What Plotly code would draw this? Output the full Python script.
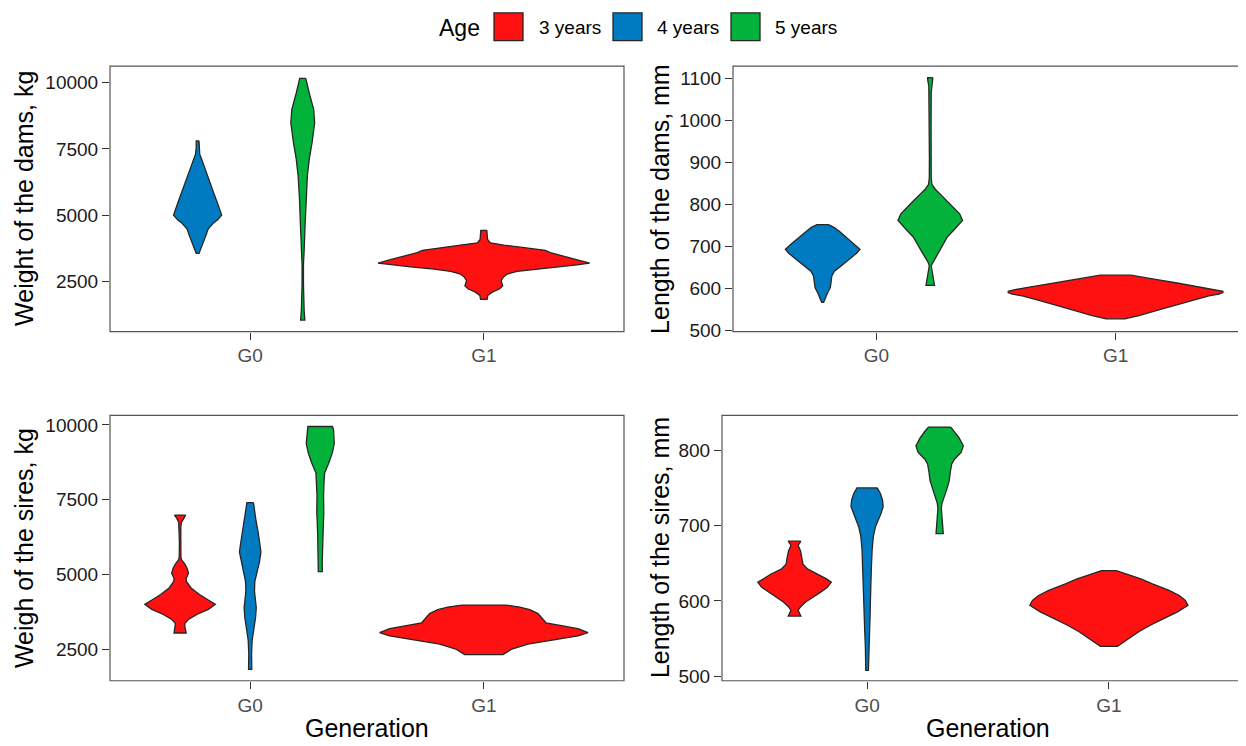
import plotly.graph_objects as go

W, H = 1246, 746
OFF = 8  # browser default body margin; the figure is shifted by this much
FONT = "Liberation Sans, Arial, Helvetica, sans-serif"

GENERATIONS = ["G0", "G1"]
AGES = ["3 years", "4 years", "5 years"]
AGE_COLORS = ["#FF1111", "#007BC2", "#03B23B"]

# Violin outlines: y = value, w = half width of the violin (x-axis units)
# ---- Weight of the dams, kg ----
dams_wt_G0_4y_y = [7800, 7550, 7300, 7120, 6500, 5880, 5380, 5000, 4820, 4700, 4570, 4450, 4260, 4010, 3770, 3550]
dams_wt_G0_4y_w = [0.006, 0.006, 0.009, 0.017, 0.041, 0.067, 0.088, 0.103, 0.086, 0.068, 0.054, 0.044, 0.037, 0.026, 0.014, 0.006]
dams_wt_G0_5y_y = [10160, 9975, 9600, 8980, 8485, 7740, 7120, 6500, 5630, 4635, 3640, 3145, 2400, 1900, 1405, 1035]
dams_wt_G0_5y_w = [0.013, 0.017, 0.028, 0.047, 0.051, 0.040, 0.028, 0.020, 0.014, 0.010, 0.006, 0.003, 0.003, 0.004, 0.006, 0.009]
dams_wt_G1_3y_y = [4424, 4263, 4077, 3952, 3866, 3766, 3667, 3580, 3456, 3332, 3182, 3120, 3046, 2959, 2872,
                   2773, 2648, 2524, 2425, 2325, 2214, 2090, 1965, 1816]
dams_wt_G1_3y_w = [0.013, 0.013, 0.016, 0.028, 0.085, 0.174, 0.263, 0.285, 0.335, 0.392, 0.453, 0.399, 0.313, 0.214, 0.142,
                   0.100, 0.083, 0.074, 0.078, 0.081, 0.068, 0.036, 0.017, 0.014]

# ---- Length of the dams, mm ----
dams_len_G0_4y_y = [751.7, 744.6, 734.5, 722.8, 707.2, 693.1, 683.7, 672.0, 660.3, 650.9, 640.7, 629.0, 613.4, 601.7, 588.4, 576.7, 566.6]
dams_len_G0_4y_w = [0.024, 0.049, 0.072, 0.095, 0.128, 0.156, 0.142, 0.118, 0.095, 0.072, 0.049, 0.038, 0.035, 0.032, 0.020, 0.010, 0.004]
dams_len_G0_5y_y = [1101.6, 1093.8, 1082.0, 1066.4, 988.3, 910.2, 863.4, 847.7, 836.0, 824.3, 808.7, 793.1, 777.4, 761.8, 750.1,
                    738.4, 722.8, 707.2, 691.5, 675.9, 664.2, 654.1, 640.7, 625.1, 607.2]
dams_len_G0_5y_w = [0.011, 0.010, 0.006, 0.004, 0.0035, 0.0035, 0.004, 0.007, 0.021, 0.042, 0.070, 0.098, 0.123, 0.135, 0.118,
                    0.098, 0.072, 0.056, 0.039, 0.024, 0.011, 0.004, 0.008, 0.014, 0.018]
dams_len_G1_3y_y = [631.3, 628.9, 621.1, 613.3, 605.5, 597.7, 593.0, 589.9, 586.0, 582.1, 570.4, 558.7, 546.9, 535.2, 530.5, 527.4]
dams_len_G1_3y_w = [0.064, 0.086, 0.167, 0.251, 0.334, 0.415, 0.449, 0.449, 0.432, 0.390, 0.313, 0.237, 0.170, 0.098, 0.063, 0.039]

# ---- Weigh of the sires, kg ----
sires_wt_G0_3y_y = [6986, 6876, 6745, 6580, 6087, 5594, 5484, 5375, 5210, 5046, 4882, 4772, 4553, 4334, 4169, 4005,
                    3840, 3676, 3512, 3369, 3237, 3051]
sires_wt_G0_3y_w = [0.024, 0.014, 0.006, 0.003, 0.003, 0.0036, 0.007, 0.0185, 0.030, 0.036, 0.026, 0.027, 0.047, 0.083, 0.117, 0.151,
                    0.121, 0.074, 0.037, 0.020, 0.021, 0.026]
sires_wt_G0_4y_y = [7402, 7183, 6855, 6416, 6087, 5758, 5430, 5101, 4772, 4443, 4114, 3895, 3567, 3238, 2799, 2361, 1835]
sires_wt_G0_4y_w = [0.014, 0.017, 0.024, 0.034, 0.040, 0.046, 0.040, 0.0285, 0.020, 0.0185, 0.024, 0.026, 0.023, 0.017, 0.0085, 0.006, 0.007]
sires_wt_G0_5y_y = [9945, 9814, 9375, 9046, 8718, 8389, 8060, 7622, 7074, 6745, 6306, 5868, 5430, 5101]
sires_wt_G0_5y_w = [0.053, 0.057, 0.060, 0.051, 0.036, 0.0185, 0.016, 0.014, 0.015, 0.013, 0.011, 0.010, 0.0085, 0.0085]
sires_wt_G1_3y_y = [3983, 3917, 3830, 3698, 3501, 3391, 3303, 3194, 3062, 2953, 2821, 2679, 2514, 2328]
sires_wt_G1_3y_w = [0.094, 0.154, 0.197, 0.232, 0.254, 0.266, 0.326, 0.403, 0.446, 0.403, 0.300, 0.189, 0.120, 0.082]

# ---- Length of the sires, mm ----
sires_len_G0_3y_y = [679.2, 673.5, 666.1, 657.4, 648.7, 642.1, 635.6, 629.1, 624.7, 618.1, 611.6, 605.1, 598.5, 592.0, 587.6, 579.8]
sires_len_G0_3y_w = [0.026, 0.015, 0.025, 0.0305, 0.035, 0.055, 0.097, 0.132, 0.152, 0.136, 0.108, 0.076, 0.046, 0.025, 0.015, 0.026]
sires_len_G0_4y_y = [749.8, 742.4, 733.7, 725.0, 716.3, 707.5, 698.8, 685.7, 668.3, 646.5, 624.7, 602.9, 581.1, 559.3, 537.5, 520.0, 507.8]
sires_len_G0_4y_w = [0.042, 0.055, 0.064, 0.0665, 0.058, 0.046, 0.035, 0.026, 0.021, 0.018, 0.015, 0.014, 0.0125, 0.0097, 0.007, 0.0055, 0.0055]
sires_len_G0_5y_y = [830.5, 825.3, 816.6, 805.7, 796.9, 788.2, 781.7, 770.8, 759.9, 748.9, 738.1, 729.4, 722.8, 711.9, 701.0, 689.2]
sires_len_G0_5y_w = [0.046, 0.060, 0.080, 0.098, 0.089, 0.062, 0.050, 0.044, 0.040, 0.0305, 0.019, 0.0097, 0.007, 0.0097, 0.0125, 0.015]
sires_len_G1_3y_y = [640.0, 634.7, 629.1, 622.5, 613.8, 607.2, 600.7, 594.2, 585.4, 576.7, 568.0, 559.3, 548.4, 539.6]
sires_len_G1_3y_w = [0.0305, 0.079, 0.132, 0.180, 0.249, 0.291, 0.316, 0.327, 0.284, 0.2285, 0.173, 0.125, 0.076, 0.035]

# tick values per panel
dams_wt_ticks = [2500, 5000, 7500, 10000]
dams_len_ticks = [500, 600, 700, 800, 900, 1000, 1100]
sires_wt_ticks = [2500, 5000, 7500, 10000]
sires_len_ticks = [500, 600, 700, 800]

FW, FH = W - OFF, H - OFF  # figure size so that it fills the window after the body margin


def px_x(v):
    return (v - OFF) / FW


def px_y(v):
    return 1 - (v - OFF) / FH


panels = [
    dict(title="Weight of the dams, kg", xtitle=None,
         box=(110, 624, 66, 335), yrange=[600, 10620], ticks=dams_wt_ticks, title_x=24,
         violins=[("G0", "4 years", dams_wt_G0_4y_y, dams_wt_G0_4y_w),
                  ("G0", "5 years", dams_wt_G0_5y_y, dams_wt_G0_5y_w),
                  ("G1", "3 years", dams_wt_G1_3y_y, dams_wt_G1_3y_w)]),
    dict(title="Length of the dams, mm", xtitle=None,
         box=(733, 1259, 66, 335), yrange=[497, 1129], ticks=dams_len_ticks, title_x=660,
         violins=[("G0", "4 years", dams_len_G0_4y_y, dams_len_G0_4y_w),
                  ("G0", "5 years", dams_len_G0_5y_y, dams_len_G0_5y_w),
                  ("G1", "3 years", dams_len_G1_3y_y, dams_len_G1_3y_w)]),
    dict(title="Weigh of the sires, kg", xtitle="Generation",
         box=(110, 624, 420, 689), yrange=[1455, 10315], ticks=sires_wt_ticks, title_x=24,
         violins=[("G0", "3 years", sires_wt_G0_3y_y, sires_wt_G0_3y_w),
                  ("G0", "4 years", sires_wt_G0_4y_y, sires_wt_G0_4y_w),
                  ("G0", "5 years", sires_wt_G0_5y_y, sires_wt_G0_5y_w),
                  ("G1", "3 years", sires_wt_G1_3y_y, sires_wt_G1_3y_w)]),
    dict(title="Length of the sires, mm", xtitle="Generation",
         box=(722, 1254, 420, 689), yrange=[494, 846], ticks=sires_len_ticks, title_x=660,
         violins=[("G0", "3 years", sires_len_G0_3y_y, sires_len_G0_3y_w),
                  ("G0", "4 years", sires_len_G0_4y_y, sires_len_G0_4y_w),
                  ("G0", "5 years", sires_len_G0_5y_y, sires_len_G0_5y_w),
                  ("G1", "3 years", sires_len_G1_3y_y, sires_len_G1_3y_w)]),
]

fig = go.Figure()
layout = dict(width=FW, height=FH, autosize=False, margin=dict(l=0, r=0, t=0, b=0),
              paper_bgcolor="white", plot_bgcolor="white", showlegend=False,
              font=dict(family=FONT, color="#1a1a1a"))
shapes = []
annotations = []

for i, p in enumerate(panels, start=1):
    x0, x1, y0, y1 = p["box"]
    unit = (x1 - x0) / 2.2
    vis_x1 = min(x1, W)
    xmax = 0.4 + (vis_x1 - x0) / unit
    xa = "x" if i == 1 else f"x{i}"
    ya = "y" if i == 1 else f"y{i}"
    layout["xaxis" if i == 1 else f"xaxis{i}"] = dict(
        domain=[px_x(x0), px_x(vis_x1)], range=[0.4, xmax], anchor=ya,
        tickmode="array", tickvals=[1, 2], ticktext=GENERATIONS,
        ticks="outside", ticklen=7, tickwidth=1.1, tickcolor="#333333",
        showgrid=False, zeroline=False, showline=False, fixedrange=True,
        tickfont=dict(size=19, color="#4d4d4d", family=FONT))
    layout["yaxis" if i == 1 else f"yaxis{i}"] = dict(
        domain=[px_y(y1), px_y(y0)], range=p["yrange"], anchor=xa,
        tickmode="array", tickvals=p["ticks"], ticktext=[str(t) for t in p["ticks"]],
        ticks="outside", ticklen=7, tickwidth=1.1, tickcolor="#333333",
        showgrid=False, zeroline=False, showline=False, fixedrange=True,
        tickfont=dict(size=19, color="#1a1a1a", family=FONT))

    # dodge positions like ggplot (width 0.9)
    for gen, age, yv, wv in p["violins"]:
        present = sorted({a for g, a, _, _ in p["violins"] if g == gen}, key=AGES.index)
        n = len(present)
        k = present.index(age)
        gi = GENERATIONS.index(gen) + 1
        c = gi - 0.45 + (0.9 / n) * (k + 0.5)
        xs = [c + w for w in wv] + [c - w for w in reversed(wv)]
        ys = list(yv) + list(reversed(yv))
        xs.append(xs[0])
        ys.append(ys[0])
        fig.add_trace(go.Scatter(
            x=xs, y=ys, xaxis=xa, yaxis=ya, mode="lines", fill="toself",
            fillcolor=AGE_COLORS[AGES.index(age)],
            line=dict(color="#262626", width=1.3), hoverinfo="skip", name=age))

    # panel border
    shapes.append(dict(type="rect", xref="paper", yref="paper",
                       x0=px_x(x0), x1=px_x(x1), y0=px_y(y1), y1=px_y(y0),
                       line=dict(color="#555555", width=1.2), fillcolor="rgba(0,0,0,0)", layer="above"))
    annotations.append(dict(text=p["title"], xref="paper", yref="paper",
                            x=px_x(p["title_x"]), y=px_y((y0 + y1) / 2), textangle=-90,
                            xanchor="center", yanchor="middle", showarrow=False,
                            font=dict(size=25, color="#000000", family=FONT)))
    if p["xtitle"]:
        annotations.append(dict(text=p["xtitle"], xref="paper", yref="paper",
                                x=px_x((x0 + x1) / 2), y=px_y(737), xanchor="center", yanchor="middle",
                                showarrow=False, font=dict(size=25, color="#000000", family=FONT)))

# legend (drawn manually to match ggplot's keys)
annotations.append(dict(text="Age", xref="paper", yref="paper", x=px_x(437), y=px_y(27),
                        xanchor="left", yanchor="middle", showarrow=False,
                        font=dict(size=23, color="#000000", family=FONT)))
key_x = [494, 613, 731]
lab_x = [537, 655, 773]
for age, col, kx, lx in zip(AGES, AGE_COLORS, key_x, lab_x):
    shapes.append(dict(type="rect", xref="paper", yref="paper",
                       x0=px_x(kx), x1=px_x(kx + 29), y0=px_y(40), y1=px_y(12),
                       line=dict(color="#262626", width=1.3), fillcolor=col))
    annotations.append(dict(text=age, xref="paper", yref="paper", x=px_x(lx), y=px_y(27),
                            xanchor="left", yanchor="middle", showarrow=False,
                            font=dict(size=19, color="#000000", family=FONT)))

layout["shapes"] = shapes
layout["annotations"] = annotations
fig.update_layout(**layout)
fig.write_html("out.html")
